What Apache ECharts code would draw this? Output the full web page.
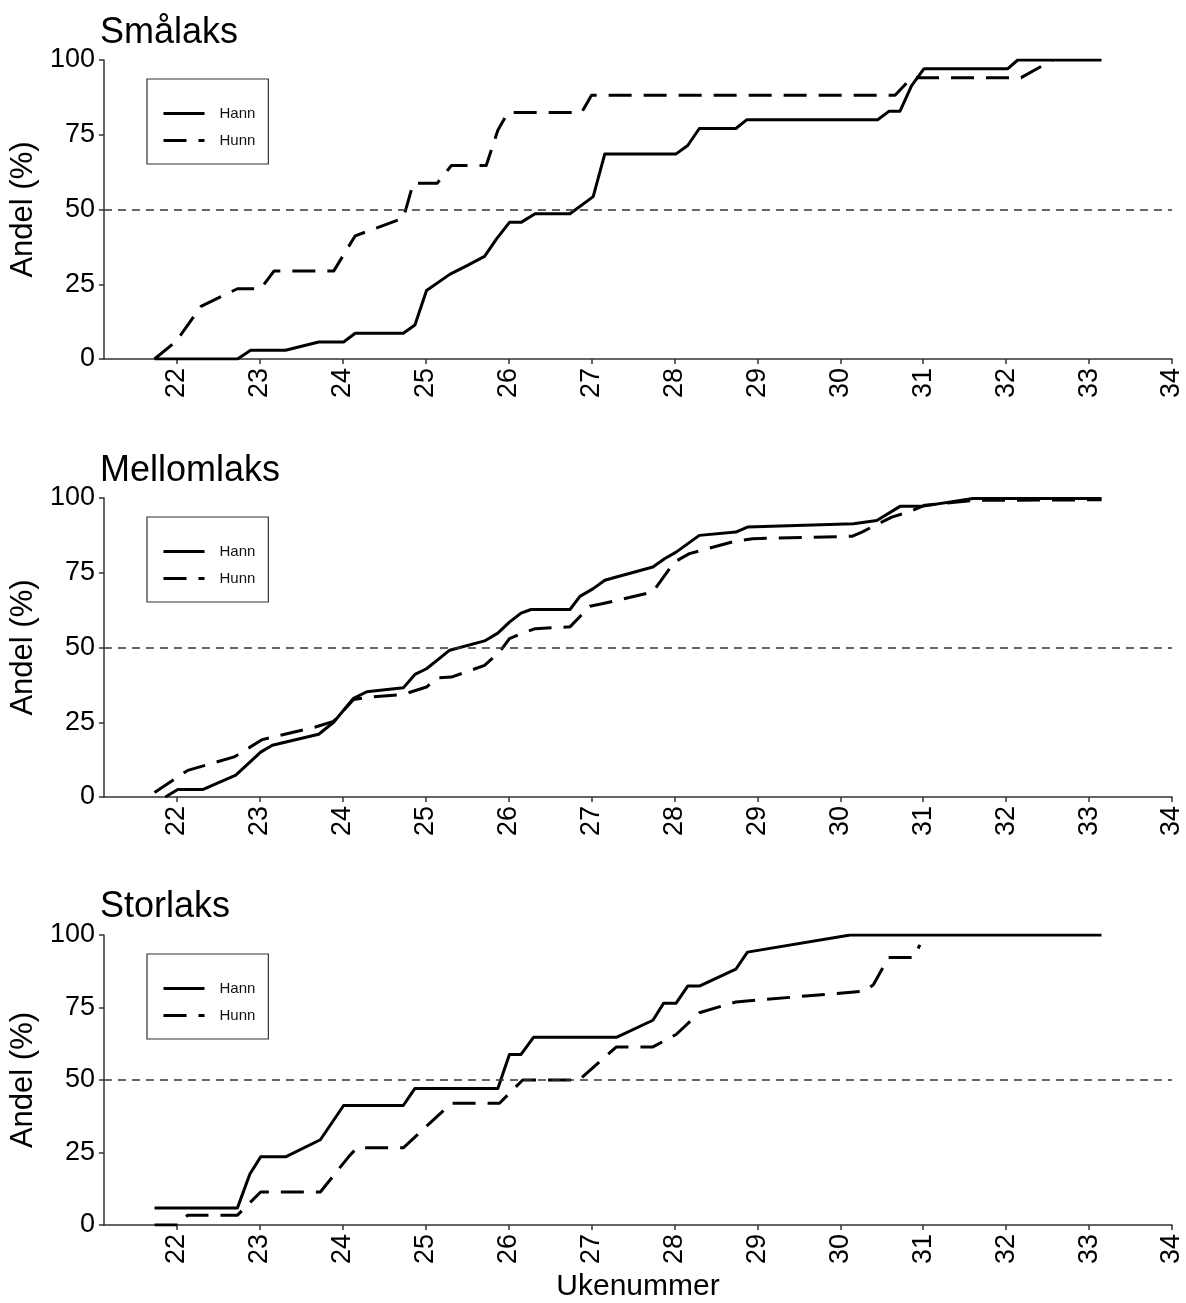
<!DOCTYPE html>
<html>
<head>
<meta charset="utf-8">
<script src="https://cdn.jsdelivr.net/npm/echarts@6/dist/echarts.min.js"></script>
<style>
  html, body { margin: 0; padding: 0; background: #fff; }
  #chart { width: 1186px; height: 1303px; }
</style>
</head>
<body>
<div id="chart"></div>
<script>
// Cumulative share (%) of the run by week number, per size group and sex
const panelTitles = ['Smålaks', 'Mellomlaks', 'Storlaks'];
const sexNames = ['Hann', 'Hunn'];
const weekTicks = [22, 23, 24, 25, 26, 27, 28, 29, 30, 31, 32, 33, 34];
const shareTicks = [0, 25, 50, 75, 100];
const halfLine = 50;

const smaHann = [[21.73,0],[22.73,0],[22.89,2.9],[23.31,2.9],[23.71,5.7],[24.01,5.7],[24.15,8.6],[24.73,8.6],[24.87,11.4],[25.01,22.9],[25.29,28.3],[25.51,31.4],[25.71,34.3],[25.85,40.0],[26.01,45.7],[26.15,45.7],[26.32,48.6],[26.74,48.6],[27.02,54.3],[27.16,68.6],[28.02,68.6],[28.16,71.4],[28.30,77.1],[28.74,77.1],[28.87,80.0],[30.45,80.0],[30.59,82.9],[30.72,82.9],[30.86,91.4],[31.01,97.1],[32.02,97.1],[32.14,100],[33.15,100]];
const smaHunn = [[21.73,0],[21.99,5.9],[22.29,17.6],[22.73,23.5],[23.01,23.5],[23.17,29.4],[23.89,29.4],[24.15,41.2],[24.73,47.1],[24.85,58.8],[25.14,58.8],[25.31,64.7],[25.73,64.7],[25.87,76.5],[25.99,82.4],[26.88,82.4],[27.00,88.2],[30.66,88.2],[30.86,94.1],[32.18,94.1],[32.56,100]];

const melHann = [[21.86,0],[22.01,2.5],[22.31,2.5],[22.71,7.3],[23.01,15.0],[23.15,17.3],[23.71,21.0],[23.89,25.0],[24.13,33.0],[24.29,35.2],[24.73,36.5],[24.87,41.0],[25.01,42.9],[25.29,49.1],[25.71,52.2],[25.87,54.8],[26.01,58.5],[26.15,61.5],[26.27,62.7],[26.74,62.7],[26.86,67.1],[27.02,69.7],[27.16,72.5],[27.30,73.6],[27.74,76.9],[27.88,79.7],[28.02,81.9],[28.30,87.5],[28.74,88.6],[28.88,90.3],[30.16,91.4],[30.44,92.5],[30.72,97.2],[30.98,97.2],[31.60,99.8],[33.15,99.8]];
const melHunn = [[21.73,1.5],[22.13,8.9],[22.69,13.4],[23.03,19.2],[23.67,23.4],[23.89,25.3],[24.13,32.6],[24.33,33.4],[24.73,34.3],[25.01,36.8],[25.15,39.9],[25.31,40.1],[25.71,44.0],[25.89,48.5],[26.01,53.0],[26.15,54.6],[26.32,56.3],[26.74,56.9],[26.98,63.8],[27.14,64.7],[27.74,68.6],[28.00,78.6],[28.18,81.4],[28.74,85.6],[28.94,86.4],[30.14,87.2],[30.26,88.6],[30.62,93.6],[30.82,95.3],[31.02,97.6],[31.62,99.2],[33.15,99.4]];

const stoHann = [[21.73,5.9],[22.73,5.9],[22.88,17.6],[23.01,23.5],[23.31,23.5],[23.73,29.4],[24.01,41.2],[24.73,41.2],[24.87,47.1],[25.87,47.1],[26.01,58.8],[26.15,58.8],[26.30,64.7],[27.30,64.7],[27.74,70.6],[27.87,76.5],[28.02,76.5],[28.16,82.4],[28.30,82.4],[28.74,88.2],[28.88,94.1],[30.12,100],[33.15,100]];
const stoHunn = [[21.73,0],[22.01,0],[22.13,3.4],[22.73,3.4],[23.01,11.4],[23.73,11.4],[24.07,23.5],[24.17,26.6],[24.73,26.6],[25.31,42.0],[25.89,42.0],[26.17,50.0],[26.85,50.0],[27.30,61.4],[27.74,61.4],[28.02,65.7],[28.30,73.2],[28.74,76.9],[30.30,80.7],[30.40,82.9],[30.58,92.2],[30.88,92.2],[30.96,96.6]];

const panelData = [[smaHann, smaHunn], [melHann, melHunn], [stoHann, stoHunn]];

const FONT = '"Liberation Sans", Arial, sans-serif';
const AXIS_COLOR = '#333';
const gridTops = [60, 498, 935];
const gridHeights = [299, 299, 298];
const titleTops = [15, 453, 889];
const legendTops = [79, 517, 954];
const dashLong = [23, 12];

const grids = [], xAxes = [], yAxes = [], series = [], titles = [], legends = [];

panelTitles.forEach((name, i) => {
  grids.push({ left: 99, width: 1073, top: gridTops[i], height: gridHeights[i], containLabel: false });

  titles.push({
    text: name, left: 100, top: titleTops[i], padding: 0,
    textStyle: { fontFamily: FONT, fontSize: 36, fontWeight: 'normal', color: '#000' }
  });

  xAxes.push({
    type: 'value', gridIndex: i, min: 21.12, max: 34,
    name: i === 2 ? 'Ukenummer' : '',
    nameLocation: 'middle', nameGap: 47,
    nameTextStyle: { fontFamily: FONT, fontSize: 30, color: '#000' },
    axisLine: { show: true, onZero: false, lineStyle: { color: AXIS_COLOR, width: 1.5 } },
    axisTick: { show: true, length: 5, customValues: weekTicks, lineStyle: { color: AXIS_COLOR, width: 1.5 } },
    axisLabel: { customValues: weekTicks, rotate: 90, margin: 9, fontFamily: FONT, fontSize: 27, color: '#000' },
    splitLine: { show: false }
  });

  yAxes.push({
    type: 'value', gridIndex: i, min: 0, max: 100, interval: 25,
    name: 'Andel (%)', nameLocation: 'middle', nameGap: 54, nameRotate: 90,
    nameTextStyle: { fontFamily: FONT, fontSize: 31, color: '#000' },
    axisLine: { show: true, lineStyle: { color: AXIS_COLOR, width: 1.5 } },
    axisTick: { show: true, length: 5, lineStyle: { color: AXIS_COLOR, width: 1.5 } },
    axisLabel: { margin: 9, fontFamily: FONT, fontSize: 27, color: '#000',
      customValues: shareTicks },
    splitLine: { show: false }
  });

  const [hann, hunn] = panelData[i];

  series.push({
    name: sexNames[1], type: 'line', xAxisIndex: i, yAxisIndex: i,
    data: hunn, symbol: 'none', smooth: false,
    lineStyle: { color: '#000', width: 3, type: dashLong, join: 'round' },
    itemStyle: { color: '#000' },
    markLine: {
      silent: true, symbol: ['none', 'none'], animation: false,
      label: { show: false },
      lineStyle: { color: '#333', width: 1.5, type: [8, 6] },
      data: [{ yAxis: halfLine }]
    }
  });
  series.push({
    name: sexNames[0], type: 'line', xAxisIndex: i, yAxisIndex: i,
    data: hann, symbol: 'none', smooth: false,
    lineStyle: { color: '#000', width: 3, type: 'solid', join: 'round' },
    itemStyle: { color: '#000' }
  });

  legends.push({
    data: sexNames, orient: 'vertical', left: 147, top: legendTops[i],
    padding: [27, 13, 16, 15], itemWidth: 41, itemHeight: 14, itemGap: 12,
    borderColor: '#333', borderWidth: 1.2, borderRadius: 0,
    selectedMode: false,
    textStyle: { fontFamily: FONT, fontSize: 15, color: '#111', padding: [0, 0, 0, 10] },
    itemStyle: { color: 'rgba(0,0,0,0)', opacity: 0, borderWidth: 0 },
    lineStyle: { width: 3 }
  });
});

const chart = echarts.init(document.getElementById('chart'), null, { renderer: 'canvas' });
chart.setOption({
  backgroundColor: '#fff',
  animation: false,
  title: titles,
  legend: legends,
  grid: grids,
  xAxis: xAxes,
  yAxis: yAxes,
  series: series
});
</script>
</body>
</html>
